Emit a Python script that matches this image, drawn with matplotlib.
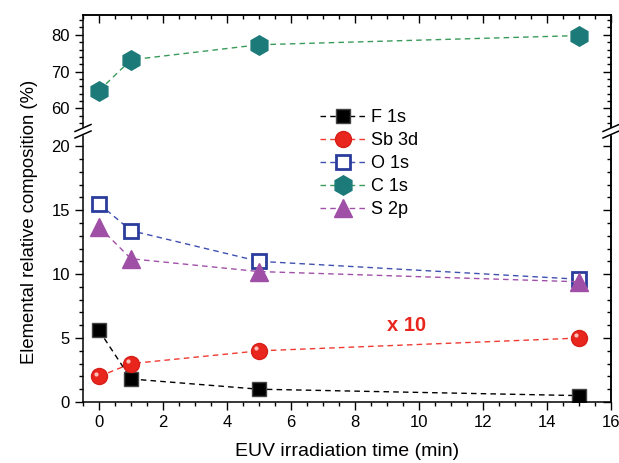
import matplotlib
matplotlib.use("Agg")
import matplotlib.pyplot as plt
import matplotlib.transforms as mtransforms
from matplotlib.ticker import MultipleLocator, NullFormatter
from matplotlib.lines import Line2D

plt.rcParams['font.family'] = ['Liberation Sans', 'DejaVu Sans']

time = [0, 1, 5, 15]
f1s = [5.6, 1.8, 1.0, 0.5]
sb3d = [2.0, 3.0, 4.0, 5.0]
o1s = [15.5, 13.4, 11.0, 9.6]
c1s = [64.8, 73.2, 77.3, 79.8]
s2p = [13.7, 11.2, 10.2, 9.4]

FW, FH = 619, 463
fig = plt.figure(figsize=(FW/100, FH/100), dpi=100)
x0, x1 = 83, 611
L, W = x0/FW, (x1-x0)/FW
ax_u = fig.add_axes([L, 1-127/FH, W, (127-15)/FH])
ax_l = fig.add_axes([L, 1-402/FH, W, (402-136)/FH])

ax_u.set_ylim(54.9, 85.4)
ax_l.set_ylim(0, 20.8)

def style(ax):
    ax.tick_params(which='both', direction='out', labelsize=12, pad=4)
    ax.tick_params(which='major', length=5.5, width=1)
    ax.tick_params(which='minor', length=3, width=1)
    for s in ax.spines.values():
        s.set_linewidth(1.1)

for ax in (ax_u, ax_l):
    ax.set_xlim(-0.5, 16)
    ax.xaxis.set_major_locator(MultipleLocator(2))
    ax.xaxis.set_minor_locator(MultipleLocator(0.5))
    style(ax)

ax_u.spines['bottom'].set_visible(False)
ax_u.tick_params(axis='x', which='both', bottom=False, labelbottom=False)
ax_l.spines['top'].set_visible(False)
ax_u.yaxis.set_major_locator(MultipleLocator(10))
ax_u.yaxis.set_minor_locator(MultipleLocator(2))
ax_l.yaxis.set_major_locator(MultipleLocator(5))
ax_l.yaxis.set_minor_locator(MultipleLocator(1))

def mirror(sec, axis, maj, mnr):
    a = sec.xaxis if axis == 'x' else sec.yaxis
    a.set_major_locator(MultipleLocator(maj))
    a.set_minor_locator(MultipleLocator(mnr))
    a.set_major_formatter(NullFormatter())
    sec.tick_params(which='both', direction='in', width=1)
    sec.tick_params(which='major', length=5.5)
    sec.tick_params(which='minor', length=3)

top_u = ax_u.secondary_xaxis('top')
mirror(top_u, 'x', 2, 0.5)
right_u = ax_u.secondary_yaxis('right')
mirror(right_u, 'y', 10, 2)
right_l = ax_l.secondary_yaxis('right')
mirror(right_l, 'y', 5, 1)
for sec in (top_u, right_u, right_l):
    for s in sec.spines.values():
        s.set_linewidth(1.1)

dash = (0, (4, 3))
kw = dict(linestyle=dash, linewidth=1)
h_f, = ax_l.plot(time, f1s, color='black', marker='s', ms=10, mfc='black', mec='#444444', label='F 1s', **kw)
h_sb, = ax_l.plot(time, sb3d, color='#f03a32', marker='o', ms=11.5, mfc='#e8261e', mec='#d81e18', label='Sb 3d', **kw)
hl = mtransforms.offset_copy(ax_l.transData, fig=fig, x=-2, y=2, units='points')
ax_l.plot(time, sb3d, linestyle='none', marker='o', ms=3, mfc='#ffc0b8', mec='none', transform=hl)
h_o, = ax_l.plot(time, o1s, color='#4050b0', marker='s', ms=9.5, mfc='white', mec='#2a3c9c', mew=2, label='O 1s', **kw)
h_c, = ax_u.plot(time, c1s, color='#3a9a5a', marker='h', ms=14, mfc='#1c7a78', mec='#1c7a78', label='C 1s', **kw)
h_s, = ax_l.plot(time, s2p, color='#a050a8', marker='^', ms=13, mfc='#a04fa6', mec='#a04fa6', label='S 2p', **kw)

fig.legend(handles=[h_f, h_sb, h_o, h_c, h_s], loc='upper left',
           bbox_to_anchor=(304/FW, 1-93/FH), bbox_transform=fig.transFigure,
           frameon=False, fontsize=13, handlelength=2.5, labelspacing=0.33, handletextpad=0.3)

ax_l.text(9.6, 6.0, 'x 10', color='#e8261e', fontsize=14.5, fontweight='bold', ha='center', va='center')

ax_l.set_xlabel('EUV irradiation time (min)', fontsize=14, labelpad=9)
fig.text(30/FW, 1-(222/FH), 'Elemental relative composition (%)', rotation=90,
         fontsize=13.3, ha='center', va='center')

# break marks
for xp in (x0, x1):
    for yp in (128, 134.5):
        fig.add_artist(Line2D([(xp-8)/FW, (xp+8)/FW], [1-(yp+3.5)/FH, 1-(yp-3.5)/FH],
                              color='black', lw=1.1))

fig.savefig('out.png', dpi=100)
